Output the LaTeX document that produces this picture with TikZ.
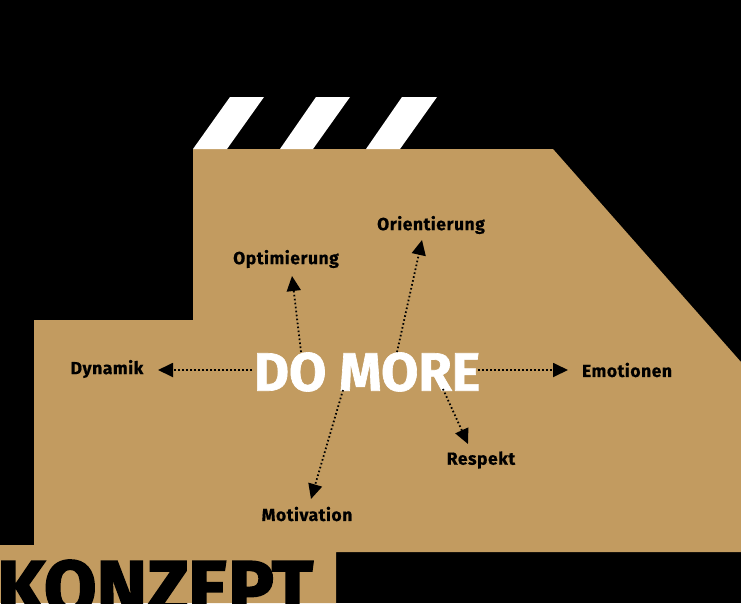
\documentclass[tikz,border=0pt]{standalone}
\usepackage{fontspec}
\setmainfont{Fira Sans}
\newfontfamily\heavyfont{Fira Sans}[BoldFeatures={FakeBold=2.5}]
\newfontfamily\lblfont{Fira Sans}[BoldFeatures={FakeBold=0.6,LetterSpace=3}]
\newfontfamily\titlefont{Fira Sans}[BoldFeatures={FakeBold=1.2}]
\usetikzlibrary{arrows.meta}
\definecolor{tan}{RGB}{194,155,96}
\tikzset{
  lbl/.style={font=\lblfont\fontsize{17.5}{19}\selectfont\bfseries, text=black, inner sep=0pt},
  dotarrow/.style={draw=black, line width=1.8pt, dash pattern=on 1.6pt off 2.4pt,
    -{Triangle[length=15pt,width=14pt]}},
  stripe/.style={fill=white, draw=none}
}
\begin{document}
\begin{tikzpicture}[x=1pt,y=-1pt]
\clip (0,0) rectangle (741,603);
\fill[black] (0,0) rectangle (741,603);
% main tan shape
\fill[tan] (193,149) -- (553,149) -- (741,362) -- (741,552) -- (336,552) -- (336,603)
  -- (0,603) -- (0,545) -- (34,545) -- (34,320) -- (193,320) -- cycle;
% stripes
\fill[stripe] (193,149) -- (230,97) -- (264,97) -- (227,149) -- cycle;
\fill[stripe] (280,149) -- (316,97) -- (350,97) -- (313,149) -- cycle;
\fill[stripe] (366,149) -- (402,97) -- (437,97) -- (400,149) -- cycle;
% title
\node[font=\titlefont\fontsize{54}{58}\selectfont\bfseries, text=white, inner sep=0pt] (center) at (367,372) {DO MORE};
% labels
\node[lbl] (orient) at (431,225) {Orientierung};
\node[lbl] (optim) at (286,259) {Optimierung};
\node[lbl] (dyn) at (107,369) {Dynamik};
\node[lbl] (emo) at (627,370) {Emotionen};
\node[lbl] (resp) at (481,460) {Respekt};
\node[lbl] (moti) at (307,514) {Motivation};
% arrow end points
\coordinate (s1) at (252,370); \coordinate (t1) at (158,370);
\coordinate (s2) at (478,370); \coordinate (t2) at (568,370);
\coordinate (s3) at (301,352); \coordinate (t3) at (292,276);
\coordinate (s4) at (397,352); \coordinate (t4) at (422,240);
\coordinate (s5) at (343,390); \coordinate (t5) at (311,499);
\coordinate (s6) at (443,389); \coordinate (t6) at (468,444);
\draw[dotarrow] (s1) -- (t1);
\draw[dotarrow] (s2) -- (t2);
\draw[dotarrow] (s3) -- (t3);
\draw[dotarrow] (s4) -- (t4);
\draw[dotarrow] (s5) -- (t5);
\draw[dotarrow] (s6) -- (t6);
% KONZEPT
\node[anchor=base west, inner sep=0pt, text=black, font=\heavyfont\fontsize{76}{80}\selectfont\bfseries] (konz) at (-3,614) {KONZEPT};
\end{tikzpicture}
\end{document}
